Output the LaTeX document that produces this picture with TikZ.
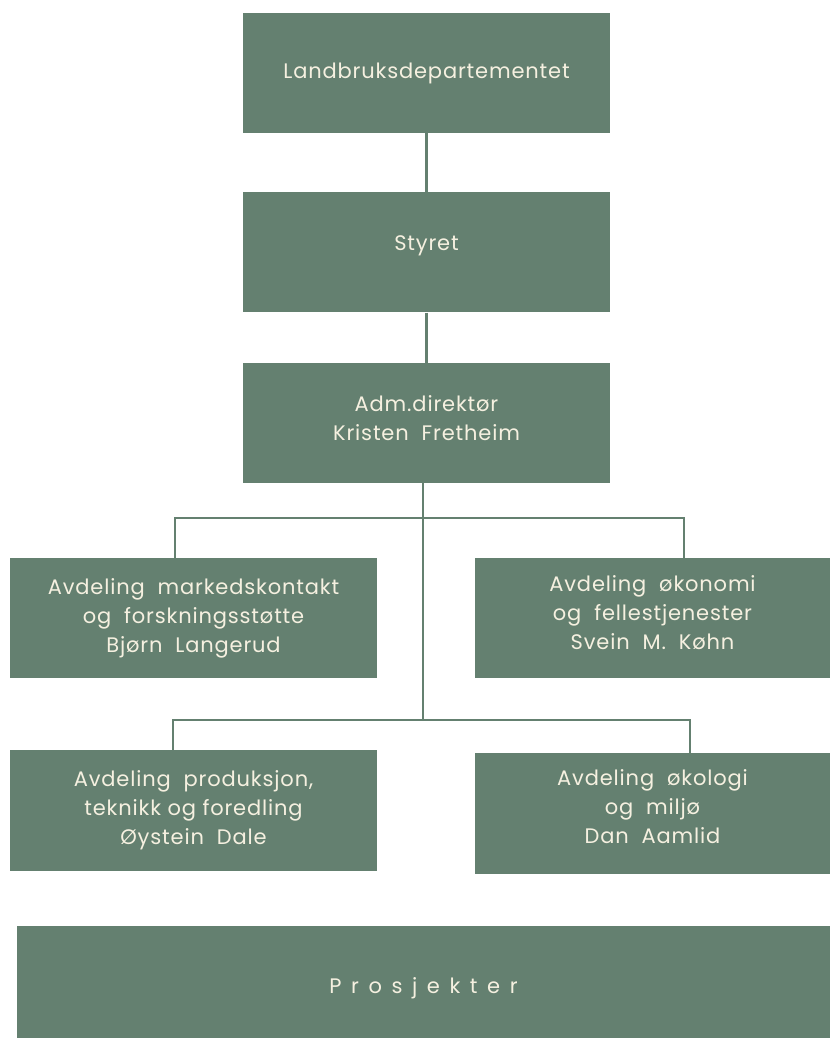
\documentclass[tikz,border=0pt]{standalone}
\usepackage{fontspec}
\setmainfont{Poppins}[LetterSpace=4]
\usetikzlibrary{positioning}
\definecolor{boxgreen}{RGB}{100,128,112}
\definecolor{textcream}{RGB}{245,240,224}

\begin{document}
\begin{tikzpicture}[x=1pt, y=-1pt,
    every node/.style={font=\fontsize{21}{29}\selectfont},
    unit/.style={rectangle, fill=boxgreen, text=textcream, align=center, minimum width=367pt, minimum height=120pt, inner sep=0pt},
    lift/.style={text depth=#1},
    link/.style={draw=boxgreen, line width=2.5pt}
]
\useasboundingbox (0,0) rectangle (830,1038);

% Top chain
\node[unit] (dept) at (426.5,73) {Landbruksdepartementet};
\node[unit, lift=19pt, below=59pt of dept] (board) {Styret};
\node[unit, lift=10pt, below=50pt of board] (ceo) {Adm.direktør\\Kristen\ \ Fretheim};

% Departments
\node[unit] (market) at (193.5,618) {Avdeling\ \ markedskontakt\\og\ \ forskningsstøtte\\Bjørn\ \ Langerud};
\node[unit, lift=10pt, minimum width=355pt] (econ) at (652.5,618) {Avdeling\ \ økonomi\\og\ \ fellestjenester\\Svein\ \ M.\ \ Køhn};
\node[unit, minimum height=121pt] (prod) at (193.5,810.5) {Avdeling\ \ produksjon,\\teknikk og foredling\\Øystein\ \ Dale};
\node[unit, lift=15pt, minimum width=355pt, minimum height=121pt] (eco) at (652.5,813.5) {Avdeling\ \ økologi\\og\ \ miljø\\Dan\ \ Aamlid};

% Projects
\node[unit, minimum width=813pt, minimum height=112pt, text depth=0pt] (proj) at (423.5,982) {\raisebox{-7pt}{\spaceskip=9.6pt P r o s j e k t e r}};

% Branch points
\coordinate (upper) at (423,518);
\coordinate (lower) at (423,720);

% Connectors
\draw[link] (dept) -- (board);
\draw[link] (board) -- (ceo);
\draw[link] ([xshift=-3.5pt]ceo.south) -- (lower);
\draw[link] ([xshift=-18.5pt]market.north) |- (upper) -| ([xshift=31.5pt]econ.north);
\draw[link] ([xshift=-20.5pt]prod.north) |- (lower) -| ([xshift=37.5pt]eco.north);

\end{tikzpicture}
\end{document}
